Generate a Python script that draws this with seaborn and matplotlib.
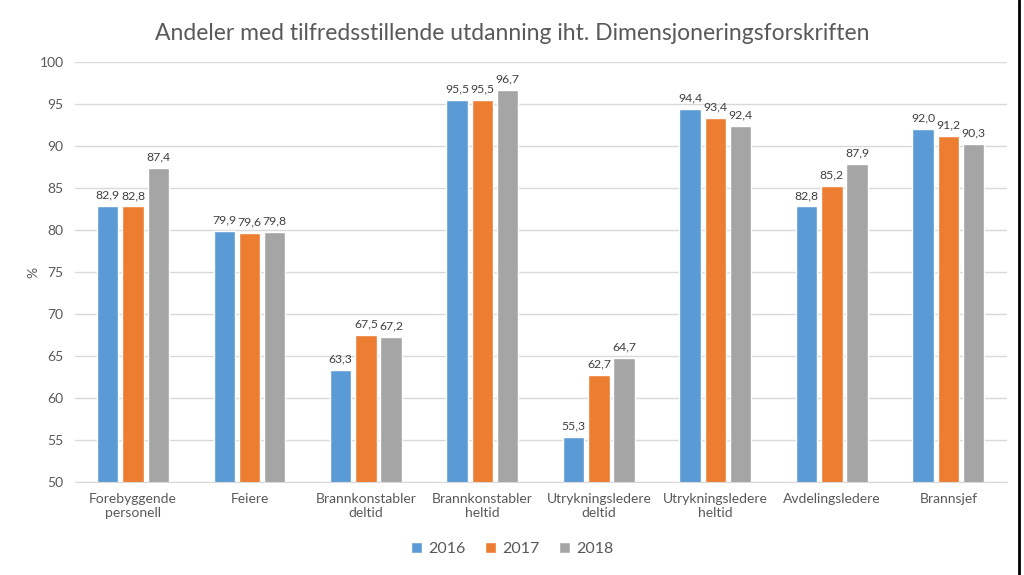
import seaborn as sns
import matplotlib.pyplot as plt
import pandas as pd

categories = ["Forebyggende\npersonell", "Feiere", "Brannkonstabler\ndeltid", "Brannkonstabler\nheltid",
              "Utrykningsledere\ndeltid", "Utrykningsledere\nheltid", "Avdelingsledere", "Brannsjef"]
years = ["2016", "2017", "2018"]
v2016 = [82.9, 79.9, 63.3, 95.5, 55.3, 94.4, 82.8, 92.0]
v2017 = [82.8, 79.6, 67.5, 95.5, 62.7, 93.4, 85.2, 91.2]
v2018 = [87.4, 79.8, 67.2, 96.7, 64.7, 92.4, 87.9, 90.3]
colors = ["#5B9BD5", "#ED7D31", "#A5A5A5"]

df = pd.DataFrame({
    "kategori": categories * 3,
    "år": [y for y in years for _ in categories],
    "verdi": v2016 + v2017 + v2018,
})

sns.set_style("white")
plt.rcParams['font.family'] = ['Lato', 'DejaVu Sans']
txt = "#595959"

fig = plt.figure(figsize=(10.24, 5.75), dpi=100)
ax = fig.add_axes([0.073, 0.162, 0.91, 0.73])
sns.barplot(data=df, x="kategori", y="verdi", hue="år", palette=colors, width=0.65, gap=0.15,
            saturation=1, ax=ax, legend=True)

for cont in ax.containers:
    labels = [f"{b.get_height():.1f}".replace(".", ",") for b in cont]
    ax.bar_label(cont, labels=labels, padding=4, fontsize=8.8, color="#404040")

ax.set_ylim(50, 100)
ax.set_yticks(range(50, 101, 5))
ax.yaxis.grid(True, color="#D9D9D9", linewidth=1)
ax.set_axisbelow(True)
for s in ["top", "right", "left"]:
    ax.spines[s].set_visible(False)
ax.spines["bottom"].set_color("#D9D9D9")
ax.set_xlabel("")
ax.set_ylabel("%", fontsize=10, color=txt, labelpad=0)
ax.tick_params(axis="both", length=0, labelsize=10, colors=txt)
ax.tick_params(axis="y", pad=8)
ax.tick_params(axis="x", pad=8)
ax.set_xlim(-0.5, len(categories) - 0.5)

ax.get_legend().remove()
handles, labs = ax.get_legend_handles_labels()
fig.legend(handles, labs, loc="center", bbox_to_anchor=(0.5, 0.045), ncol=3, frameon=False,
           fontsize=11.5, handlelength=0.7, handleheight=0.7, handletextpad=0.4, columnspacing=1.2,
           labelcolor=txt)

fig.suptitle("Andeler med tilfredsstillende utdanning iht. Dimensjoneringsforskriften",
             fontsize=16.5, color=txt, y=0.96)

fig.add_artist(plt.Line2D([0.995, 0.995], [0, 1], color="black", linewidth=2, transform=fig.transFigure))

plt.savefig("out.png", dpi=100)
